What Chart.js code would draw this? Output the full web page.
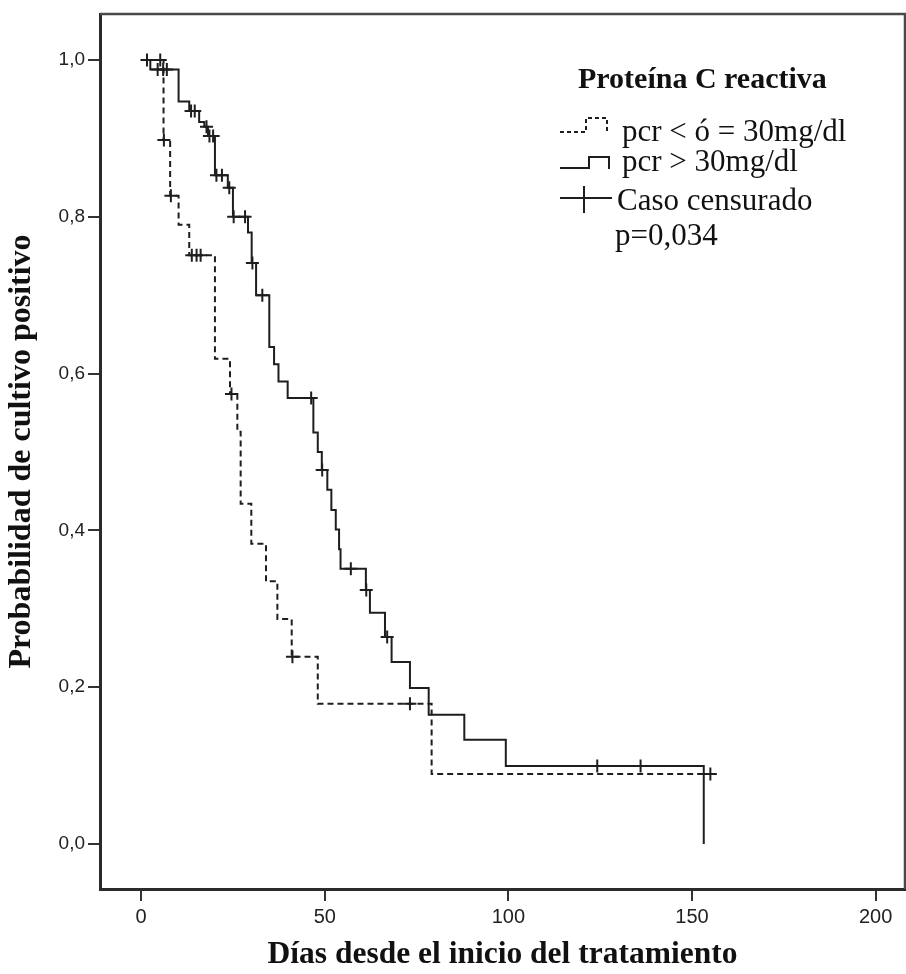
<!DOCTYPE html>
<html lang="es">
<head>
<meta charset="utf-8">
<title>Proteína C reactiva – Kaplan-Meier</title>
<script src="https://cdn.jsdelivr.net/npm/chart.js@4/dist/chart.umd.min.js"></script>
<style>
  html, body { margin: 0; padding: 0; background: #ffffff; }
  #wrap { width: 906px; height: 974px; }
</style>
</head>
<body>
<div id="wrap"><canvas id="km" width="906" height="974"></canvas></div>
<script>
// Curva pcr > 30mg/dl: día de cada evento y supervivencia tras el evento
const diasPcrAlta = [0, 2.5, 10.2, 13.1, 15.8, 17.2, 18.2, 20.1, 23.6, 25.0, 29.1, 30.1, 31.3,
  34.9, 36.2, 37.4, 39.9, 46.9, 48.1, 49.2, 50.7, 51.8, 53.0, 53.9, 54.3, 61.2, 62.3,
  66.4, 68.2, 73.2, 78.3, 88.0, 99.3, 153.2];
const supPcrAlta = [1.0, 0.988, 0.947, 0.935, 0.921, 0.915, 0.903, 0.853, 0.837, 0.800, 0.780, 0.741, 0.700,
  0.634, 0.612, 0.590, 0.569, 0.525, 0.500, 0.477, 0.452, 0.426, 0.401, 0.376, 0.351, 0.324, 0.295,
  0.264, 0.232, 0.199, 0.165, 0.133, 0.0995, 0.0];
// Casos censurados del grupo pcr > 30mg/dl (días)
const censPcrAlta = [4.5, 6.0, 7.0, 13.6, 14.6, 17.8, 18.6, 19.6, 20.5, 22.0, 24.0, 25.2, 28.3,
  30.3, 33.0, 46.3, 49.3, 57.1, 61.3, 67.0, 124.2, 136.0];

// Curva pcr < ó = 30mg/dl
const diasPcrBaja = [0, 6.1, 7.9, 10.2, 13.1, 20.1, 24.2, 26.2, 27.1, 30.0, 34.0, 37.1, 41.0, 48.1, 79.1, 155.0];
const supPcrBaja = [1.0, 0.898, 0.827, 0.790, 0.751, 0.619, 0.574, 0.526, 0.434, 0.383, 0.335, 0.287, 0.239, 0.179, 0.0893, 0.0893];
// Casos censurados del grupo pcr < ó = 30mg/dl (días)
const censPcrBaja = [1.6, 5.2, 6.2, 8.1, 13.8, 15.1, 16.2, 24.6, 41.2, 73.2, 155.0];

// Marcas de los ejes
const ticksX = [0, 50, 100, 150, 200];
const ticksY = [0, 0.2, 0.4, 0.6, 0.8, 1.0];

const INK = '#1e1e1e';

// valor de la curva escalonada en el día t (para situar cada censura sobre su curva)
function valorEn(dias, sup, t) {
  let v = sup[0];
  for (let i = 0; i < dias.length; i++) { if (dias[i] <= t) v = sup[i]; }
  return v;
}
const puntos = (xs, ys) => xs.map((x, i) => ({ x: x, y: ys[i] }));
const censuras = (cs, dias, sup) => cs.map(t => ({ x: t, y: valorEn(dias, sup, t) }));

// Marco completo alrededor del área de trazado
const marco = {
  id: 'marco',
  afterDraw(chart) {
    const { ctx, chartArea: a } = chart;
    ctx.save();
    ctx.strokeStyle = '#4a4a4a';
    ctx.lineWidth = 2.5;
    ctx.beginPath();
    ctx.moveTo(a.left, a.top);
    ctx.lineTo(a.right, a.top);
    ctx.lineTo(a.right, a.bottom);
    ctx.stroke();
    ctx.restore();
  }
};

// Leyenda con iconos escalonados, censura y valor p
const leyenda = {
  id: 'leyenda',
  afterDraw(chart) {
    const ctx = chart.ctx;
    ctx.save();
    ctx.fillStyle = '#111';
    ctx.textBaseline = 'alphabetic';
    ctx.textAlign = 'left';
    ctx.font = 'bold 30px "Liberation Serif", "Times New Roman", serif';
    ctx.fillText('Proteína C reactiva', 578, 88);

    ctx.strokeStyle = INK;
    ctx.lineWidth = 2;
    // icono discontinuo
    ctx.setLineDash([4, 3]);
    ctx.beginPath();
    ctx.moveTo(560, 132); ctx.lineTo(586, 132); ctx.lineTo(586, 118);
    ctx.lineTo(607, 118); ctx.lineTo(607, 132);
    ctx.stroke();
    ctx.setLineDash([]);
    // icono continuo
    ctx.beginPath();
    ctx.moveTo(560, 168); ctx.lineTo(589, 168); ctx.lineTo(589, 157);
    ctx.lineTo(609, 157); ctx.lineTo(609, 169);
    ctx.stroke();
    // icono de censura
    ctx.beginPath();
    ctx.moveTo(560, 198); ctx.lineTo(612, 198);
    ctx.moveTo(584, 186); ctx.lineTo(584, 213);
    ctx.stroke();

    ctx.font = '31px "Liberation Serif", "Times New Roman", serif';
    ctx.fillText('pcr < ó = 30mg/dl', 622, 141);
    ctx.fillText('pcr > 30mg/dl', 622, 171);
    ctx.fillText('Caso censurado', 617, 210);
    ctx.fillText('p=0,034', 615, 245);
    ctx.restore();
  }
};

const serif = '"Liberation Serif", "Times New Roman", serif';
const sans = '"Liberation Sans", Arial, sans-serif';

new Chart(document.getElementById('km'), {
  type: 'scatter',
  data: {
    datasets: [
      {
        label: 'pcr > 30mg/dl',
        type: 'line',
        data: puntos(diasPcrAlta, supPcrAlta),
        stepped: 'before',
        borderColor: INK,
        borderWidth: 2,
        pointRadius: 0,
        fill: false
      },
      {
        label: 'pcr < ó = 30mg/dl',
        type: 'line',
        data: puntos(diasPcrBaja, supPcrBaja),
        stepped: 'before',
        borderColor: INK,
        borderWidth: 2,
        borderDash: [6, 4],
        pointRadius: 0,
        fill: false
      },
      {
        label: 'Censurado pcr > 30mg/dl',
        data: censuras(censPcrAlta, diasPcrAlta, supPcrAlta),
        pointStyle: 'cross',
        pointRadius: 6.5,
        borderColor: INK,
        borderWidth: 2
      },
      {
        label: 'Censurado pcr < ó = 30mg/dl',
        data: censuras(censPcrBaja, diasPcrBaja, supPcrBaja),
        pointStyle: 'cross',
        pointRadius: 6.5,
        borderColor: INK,
        borderWidth: 2
      }
    ]
  },
  options: {
    responsive: false,
    animation: false,
    devicePixelRatio: 1,
    layout: { autoPadding: false, padding: { top: 14, right: 1, left: 0, bottom: 0 } },
    plugins: { legend: { display: false }, tooltip: { enabled: false } },
    scales: {
      x: {
        type: 'linear',
        min: -11.2,
        max: 208,
        afterFit(s) { s.height = 85; s.paddingLeft = 0; s.paddingRight = 0; },
        afterBuildTicks(s) { s.ticks = ticksX.map(v => ({ value: v })); },
        grid: { drawOnChartArea: false, drawTicks: true, tickLength: 12, color: '#333', lineWidth: 2 },
        border: { display: true, color: '#2a2a2a', width: 3 },
        ticks: { font: { family: sans, size: 20 }, color: '#222', padding: 4, maxRotation: 0, callback: v => String(v) },
        title: { display: true, text: 'Días desde el inicio del tratamiento',
                 font: { family: serif, size: 31.5, weight: 'bold' }, color: '#111', padding: { top: 0, bottom: 0 } }
      },
      y: {
        type: 'linear',
        min: -0.0574,
        max: 1.0587,
        afterFit(s) { s.width = 100; s.paddingTop = 0; s.paddingBottom = 0; },
        afterBuildTicks(s) { s.ticks = ticksY.map(v => ({ value: v })); },
        grid: { drawOnChartArea: false, drawTicks: true, tickLength: 12, color: '#333', lineWidth: 2 },
        border: { display: true, color: '#2a2a2a', width: 3 },
        ticks: { font: { family: sans, size: 19 }, color: '#222', padding: 3, callback: v => v.toFixed(1).replace('.', ',') },
        title: { display: true, text: 'Probabilidad de cultivo positivo',
                 font: { family: serif, size: 32, weight: 'bold' }, color: '#111', padding: { top: 3, bottom: 0 } }
      }
    }
  },
  plugins: [marco, leyenda]
});
</script>
</body>
</html>
